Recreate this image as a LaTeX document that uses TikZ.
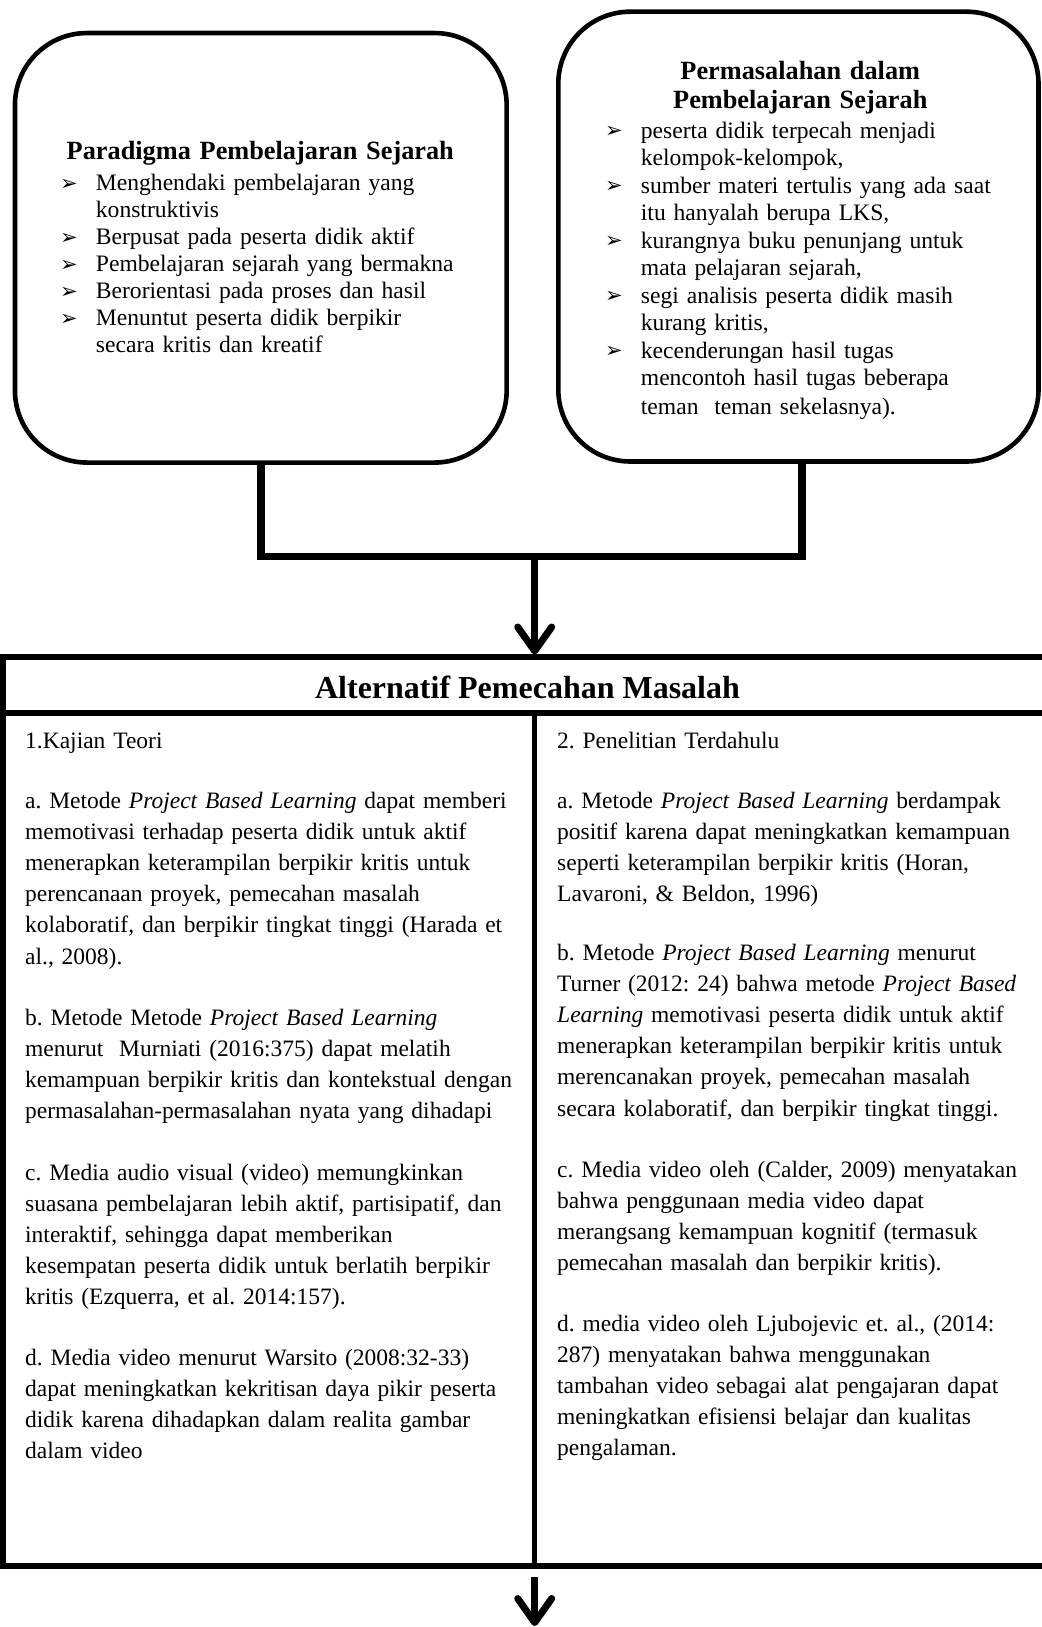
\documentclass[tikz,border=0pt]{standalone}
\usepackage{fontspec}
\setmainfont{Liberation Serif}
\newfontfamily\symfont{DejaVu Sans}
\usetikzlibrary{arrows.meta,calc}
\frenchspacing

% arrowhead bullet with a fixed hanging indent
\newcommand\bul{\makebox[35.7pt][l]{\raisebox{0.5pt}{\fontsize{21}{21}\symfont ➢}}}
\newcommand\ind{\hspace*{35.7pt}}

\begin{document}
\begin{tikzpicture}[x=1pt,y=-1pt,
  rbox/.style={draw, line width=4.6pt, rounded corners=72pt, inner sep=0pt, outer sep=0pt},
  frame/.style={line width=5.7pt},
  link/.style={line width=7.4pt, line join=miter},
  arr/.style={line width=7pt, -{Straight Barb[length=24pt,width=34pt,line cap=round,line join=round]}},
  body/.style={inner sep=0pt, anchor=base west, align=left, text width=620pt,
    font=\fontsize{23.5}{31.2}\selectfont},
  listL/.style={inner sep=0pt, anchor=base west, align=left, text width=520pt,
    font=\fontsize{23.6}{27}\selectfont},
  listR/.style={inner sep=0pt, anchor=base west, align=left, text width=520pt,
    font=\fontsize{23.6}{27.5}\selectfont},
  head/.style={inner sep=0pt, anchor=base, align=center, text width=460pt,
    font=\fontsize{26.3}{29}\selectfont\bfseries}
]
\useasboundingbox (0,0) rectangle (1041,1627);

% ---- upper boxes ----
\node[rbox, minimum width=491.7pt, minimum height=429.5pt] (para) at (260.8,247.8) {};
\node[rbox, minimum width=480.2pt, minimum height=449.8pt] (masalah) at (798.4,236.6) {};

\node[head] (paraT) at (260.3,160) {Paradigma Pembelajaran Sejarah};
\node[listL] (paraL) at (60,190.7) {%
\bul Menghendaki pembelajaran yang\\
\ind konstruktivis\\
\bul Berpusat pada peserta didik aktif\\
\bul Pembelajaran sejarah yang bermakna\\
\bul Berorientasi pada proses dan hasil\\
\bul Menuntut peserta didik berpikir\\
\ind secara kritis dan kreatif};

\node[head] (masT) at (800.3,79.3) {Permasalahan dalam\\Pembelajaran Sejarah};
\node[listR] (masL) at (605,138.3) {%
\bul peserta didik terpecah menjadi\\
\ind kelompok-kelompok,\\
\bul sumber materi tertulis yang ada saat\\
\ind itu hanyalah berupa LKS,\\
\bul kurangnya buku penunjang untuk\\
\ind mata pelajaran sejarah,\\
\bul segi analisis peserta didik masih\\
\ind kurang kritis,\\
\bul kecenderungan hasil tugas\\
\ind mencontoh hasil tugas beberapa\\[1.7pt]
\ind teman~~teman sekelasnya).};

% ---- lower frame ----
\node[draw, frame, inner sep=0pt, outer sep=0pt, anchor=north west,
  minimum width=1043pt, minimum height=909pt] (alt) at (3,657) {};
\coordinate (hsep) at (3,713);
\coordinate (divTop) at (534.7,713);
\draw[frame] (hsep) -- (hsep -| alt.east);
\draw[line width=5.2pt] (divTop) -- (divTop |- alt.south);

\node[inner sep=0pt, anchor=base, font=\fontsize{32}{36}\selectfont\bfseries]
  (altT) at (527.5,698) {Alternatif Pemecahan Masalah};

% left column
\node[body] (kT) at (25,748) {1.Kajian Teori};
\node[body] (kA) at (25,808) {%
a. Metode \textit{Project Based Learning} dapat memberi\\
memotivasi terhadap peserta didik untuk aktif\\
menerapkan keterampilan berpikir kritis untuk\\
perencanaan proyek, pemecahan masalah\\
kolaboratif, dan berpikir tingkat tinggi (Harada et\\
al., 2008).};
\node[body] (kB) at (25,1025) {%
b. Metode Metode \textit{Project Based Learning}\\
menurut~~Murniati (2016:375) dapat melatih\\
kemampuan berpikir kritis dan kontekstual dengan\\
permasalahan-permasalahan nyata yang dihadapi};
\node[body] (kC) at (25,1180) {%
c. Media audio visual (video) memungkinkan\\
suasana pembelajaran lebih aktif, partisipatif, dan\\
interaktif, sehingga dapat memberikan\\
kesempatan peserta didik untuk berlatih berpikir\\
kritis (Ezquerra, et al. 2014:157).};
\node[body] (kD) at (25,1365) {%
d. Media video menurut Warsito (2008:32-33)\\
dapat meningkatkan kekritisan daya pikir peserta\\
didik karena dihadapkan dalam realita gambar\\
dalam video};

% right column
\node[body] (pT) at (557,748) {2. Penelitian Terdahulu};
\node[body] (pA) at (557,808) {%
a. Metode \textit{Project Based Learning} berdampak\\
positif karena dapat meningkatkan kemampuan\\
seperti keterampilan berpikir kritis (Horan,\\
Lavaroni, \& Beldon, 1996)};
\node[body] (pB) at (557,960) {%
b. Metode \textit{Project Based Learning} menurut\\
Turner (2012: 24) bahwa metode \textit{Project Based}\\
\textit{Learning} memotivasi peserta didik untuk aktif\\
menerapkan keterampilan berpikir kritis untuk\\
merencanakan proyek, pemecahan masalah\\
secara kolaboratif, dan berpikir tingkat tinggi.};
\node[body] (pC) at (557,1177) {%
c. Media video oleh (Calder, 2009) menyatakan\\
bahwa penggunaan media video dapat\\
merangsang kemampuan kognitif (termasuk\\
pemecahan masalah dan berpikir kritis).};
\node[body] (pD) at (557,1331) {%
d. media video oleh Ljubojevic et. al., (2014:\\
287) menyatakan bahwa menggunakan\\
tambahan video sebagai alat pengajaran dapat\\
meningkatkan efisiensi belajar dan kualitas\\
pengalaman.};

% ---- connectors ----
\coordinate (J) at (534.7,556.3);
\coordinate (mLow) at ($(masalah.south)+(3.6,0)$);
\draw[link] (para.south) |- (J) -| (mLow);
\draw[arr, shorten >=2.5pt] (J) -- (J |- alt.north);

\coordinate (outA) at (534.7,1577);
\coordinate (outB) at (534.7,1626);
\draw[arr] (outA) -- (outB);
\end{tikzpicture}
\end{document}
